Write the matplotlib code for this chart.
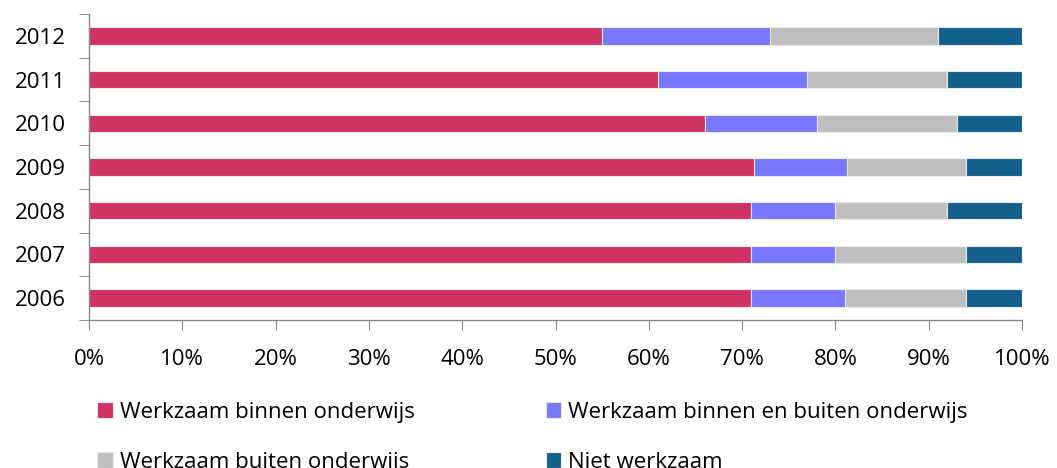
import numpy as np
import matplotlib
matplotlib.use("Agg")
from matplotlib import pyplot as plt
from matplotlib.ticker import FuncFormatter, FixedLocator

plt.rcParams['font.family'] = ['Open Sans', 'DejaVu Sans']

years = ['2006', '2007', '2008', '2009', '2010', '2011', '2012']
binnen = [71, 71, 71, 71.3, 66, 61, 55]
binnen_buiten = [10, 9, 9, 9.9, 12, 16, 18]
buiten = [13, 14, 12, 12.8, 15, 15, 18]
niet = [6, 6, 8, 6, 7, 8, 9]

labels = ['Werkzaam binnen onderwijs', 'Werkzaam binnen en buiten onderwijs',
          'Werkzaam buiten onderwijs', 'Niet werkzaam']
colors = ['#D03363', '#7777FF', '#BFBFBF', '#14608C']

fig = plt.figure(figsize=(10.57, 4.68), dpi=100)
ax = fig.add_axes([89 / 1057, 1 - 320 / 468, 933 / 1057, 306 / 468])

y = np.arange(len(years))
left = np.zeros(len(years))
bars = []
for vals, c, lab in zip([binnen, binnen_buiten, buiten, niet], colors, labels):
    b = ax.barh(y, vals, left=left, height=0.4, color=c, label=lab,
                edgecolor='#E8E8F0', linewidth=0.8)
    bars.append(b)
    left = left + np.array(vals)

ax.set_xlim(0, 100)
ax.set_ylim(-0.5, len(years) - 0.5)
ax.set_xticks(np.arange(0, 101, 10))
ax.xaxis.set_major_formatter(FuncFormatter(lambda v, p: f'{int(v)}%'))
ax.set_yticks(y)
ax.set_yticklabels(years)
ax.yaxis.set_minor_locator(FixedLocator(np.arange(-0.5, len(years), 1)))

for s in ['top', 'right']:
    ax.spines[s].set_visible(False)
for s in ['left', 'bottom']:
    ax.spines[s].set_color('#868686')
    ax.spines[s].set_linewidth(1)

ax.tick_params(axis='y', which='major', length=0, pad=17, labelsize=16)
ax.tick_params(axis='y', which='minor', length=7, color='#868686', direction='out')
ax.tick_params(axis='x', length=7, color='#868686', direction='out', pad=14, labelsize=16)

# legend is filled column by column, so order gives rows like the original
order = [0, 2, 1, 3]
ax.legend([bars[i] for i in order], [labels[i] for i in order],
          loc='upper left', bbox_to_anchor=(0.009, -0.268), ncol=2, frameon=False,
          fontsize=16, handlelength=0.7, handleheight=0.7, handletextpad=0.3,
          columnspacing=5.9, labelspacing=1.3, borderaxespad=0, borderpad=0)

fig.savefig('out.png', dpi=100)
